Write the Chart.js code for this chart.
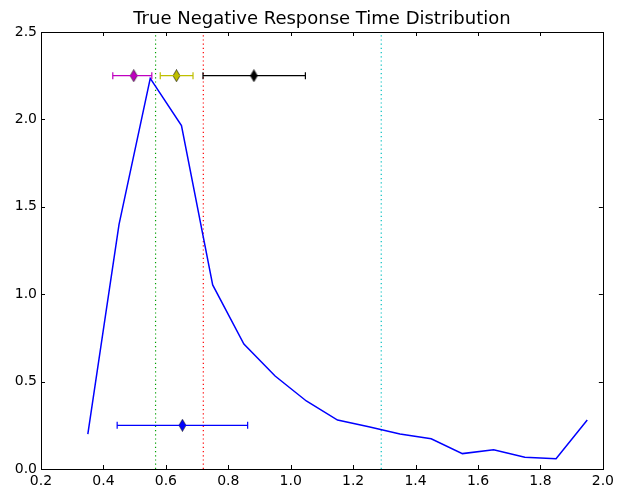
<!DOCTYPE html>
<html>
<head>
<meta charset="utf-8">
<script src="https://cdn.jsdelivr.net/npm/chart.js@4.4.1/dist/chart.umd.min.js"></script>
<style>
  html,body{ margin:0; padding:0; background:#fff; }
  #wrap{ width:618px; height:493px; }
</style>
</head>
<body>
<div id="wrap"><canvas id="chart"></canvas></div>
<script>
/* ======== DATA ======== */
const TITLE = 'True Negative Response Time Distribution';
const binCenters = [0.35, 0.45, 0.55, 0.65, 0.75, 0.85, 0.95, 1.05, 1.15, 1.25, 1.35, 1.45, 1.55, 1.65, 1.75, 1.85, 1.95];
const density    = [0.20, 1.40, 2.235, 1.965, 1.053, 0.715, 0.532, 0.389, 0.28, 0.242, 0.20, 0.173, 0.088, 0.11, 0.067, 0.059, 0.28];

// dotted vertical markers
const vlineX      = [0.567, 0.72, 1.29];
const vlineColors = ['#00a000', '#ff0000', '#00bfbf'];

// error bars: center, low, high, height
const errCenter = [0.497, 0.634, 0.882, 0.653];
const errLow    = [0.43, 0.582, 0.719, 0.444];
const errHigh   = [0.555, 0.687, 1.047, 0.862];
const errY      = [2.25, 2.25, 2.25, 0.25];
const errColors = ['#bf00bf', '#bfbf00', '#000000', '#0000ff'];

const xTicks = [0.2, 0.4, 0.6, 0.8, 1.0, 1.2, 1.4, 1.6, 1.8, 2.0];
const yTicks = [0.0, 0.5, 1.0, 1.5, 2.0, 2.5];

const FONT = 'DejaVu Sans';

/* ======== HELPERS ======== */
function thinDiamond(color){
  const c = document.createElement('canvas');
  c.width = 9; c.height = 13;
  const g = c.getContext('2d');
  g.beginPath();
  g.moveTo(4.5, 0.5); g.lineTo(8, 6.5); g.lineTo(4.5, 12.5); g.lineTo(1, 6.5); g.closePath();
  g.fillStyle = color; g.fill();
  g.lineWidth = 0.6; g.strokeStyle = '#000'; g.stroke();
  return c;
}

/* ======== DATASETS ======== */
const datasets = [];
datasets.push({
  data: binCenters.map((x,i)=>({x, y:density[i]})),
  showLine:true, borderColor:'#0000ff', borderWidth:1.5, pointRadius:0, order:1
});
vlineX.forEach((x,i)=>{
  datasets.push({
    data:[{x, y:0},{x, y:2.5}],
    showLine:true, borderColor:vlineColors[i], borderWidth:1.2, borderDash:[1.2,3],
    pointRadius:0, order:2
  });
});
errCenter.forEach((c,i)=>{
  datasets.push({
    data:[{x:errLow[i], y:errY[i]},{x:errHigh[i], y:errY[i]}],
    showLine:true, borderColor:errColors[i], borderWidth:1.2,
    pointStyle:'line', rotation:90, pointRadius:3.5, pointBorderColor:errColors[i], pointBorderWidth:1.2,
    order:0
  });
  datasets.push({
    data:[{x:c, y:errY[i]}],
    pointStyle:thinDiamond(errColors[i]), pointRadius:6, order:0
  });
});

/* ======== FRAME + INWARD TICKS ======== */
const framePlugin = {
  id:'frame',
  afterDraw(chart){
    const {ctx, chartArea:a, scales:{x, y}} = chart;
    ctx.save();
    ctx.strokeStyle = '#000'; ctx.lineWidth = 1;
    ctx.strokeRect(Math.round(a.left)+0.5, Math.round(a.top)+0.5, Math.round(a.right-a.left), Math.round(a.bottom-a.top));
    ctx.beginPath();
    xTicks.forEach(v=>{
      const px = Math.round(x.getPixelForValue(v))+0.5;
      ctx.moveTo(px, a.bottom); ctx.lineTo(px, a.bottom-4);
      ctx.moveTo(px, a.top); ctx.lineTo(px, a.top+4);
    });
    yTicks.forEach(v=>{
      const py = Math.round(y.getPixelForValue(v))+0.5;
      ctx.moveTo(a.left, py); ctx.lineTo(a.left+4, py);
      ctx.moveTo(a.right, py); ctx.lineTo(a.right-4, py);
    });
    ctx.stroke();
    // title
    ctx.fillStyle = '#000';
    ctx.font = '18px "' + FONT + '"';
    ctx.textAlign = 'center'; ctx.textBaseline = 'alphabetic';
    ctx.fillText(TITLE, (a.left + a.right)/2, 24);
    ctx.restore();
  }
};

/* ======== CHART ======== */
new Chart(document.getElementById('chart'), {
  type:'scatter',
  data:{ datasets },
  options:{
    responsive:true, maintainAspectRatio:false, animation:false,
    layout:{ padding:{ top:32, right:13, left:0, bottom:0 } },
    plugins:{ legend:{ display:false }, tooltip:{ enabled:false } },
    scales:{
      x:{
        type:'linear', min:0.2, max:2.0,
        afterBuildTicks: s => { s.ticks = xTicks.map(v=>({value:v})); },
        afterFit: s => { s.height = 24; },
        grid:{ display:false, drawTicks:false }, border:{ display:false },
        ticks:{ color:'#000', padding:4, maxRotation:0, autoSkip:false,
          font:{ family:FONT, size:14 }, callback: v => Number(v).toFixed(1) }
      },
      y:{
        type:'linear', min:0, max:2.5,
        afterBuildTicks: s => { s.ticks = yTicks.map(v=>({value:v})); },
        afterFit: s => { s.width = 41; },
        grid:{ display:false, drawTicks:false }, border:{ display:false },
        ticks:{ color:'#000', padding:4, autoSkip:false,
          font:{ family:FONT, size:14 }, callback: v => Number(v).toFixed(1) }
      }
    }
  },
  plugins:[framePlugin]
});
</script>
</body>
</html>
